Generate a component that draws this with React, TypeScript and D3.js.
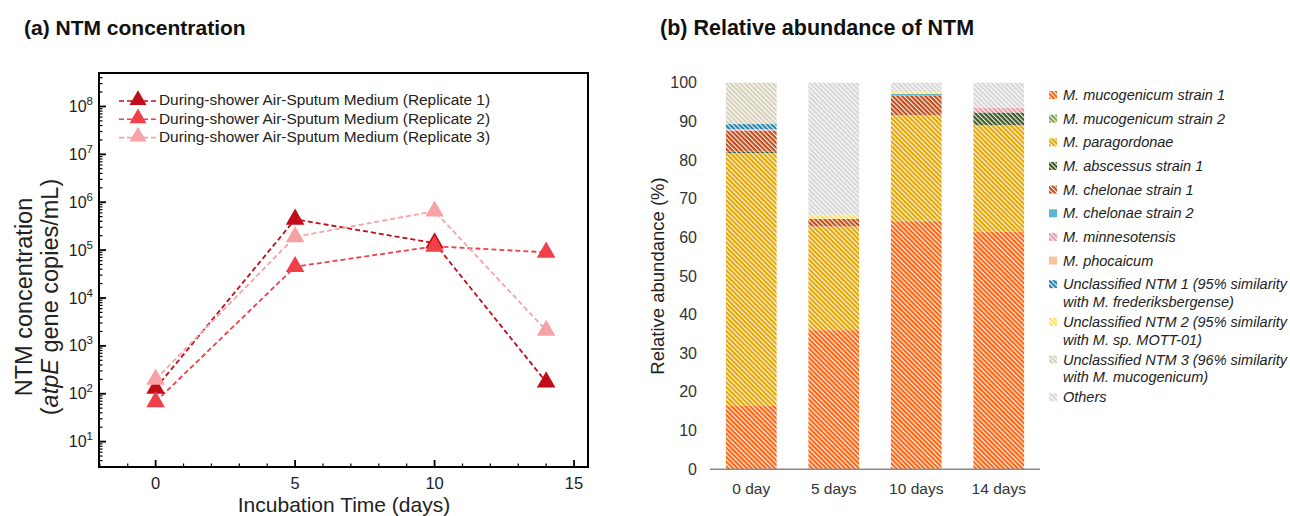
import React from 'react';
import * as d3 from 'd3';

// ---------- Panel (a) data ----------
const days = [0, 5, 10, 14];
const replicate1 = [130, 4.4e5, 1.4e5, 175];
const replicate2 = [68, 4.5e4, 1.2e5, 9.0e4];
const replicate3 = [200, 1.9e5, 6.5e5, 2.1e3];
const replicateNames = [
  'During-shower Air-Sputum Medium (Replicate 1)',
  'During-shower Air-Sputum Medium (Replicate 2)',
  'During-shower Air-Sputum Medium (Replicate 3)',
];
const replicateColors = ['#c20d18', '#f0404a', '#f7a2a5'];
const xTicksA = [0, 5, 10, 15];
const yDecadesA = [1, 2, 3, 4, 5, 6, 7, 8];

// ---------- Panel (b) data ----------
const samples = ['0 day', '5 days', '10 days', '14 days'];
const taxa = [
  'M. mucogenicum strain 1',
  'M. mucogenicum strain 2',
  'M. paragordonae',
  'M. abscessus strain 1',
  'M. chelonae strain 1',
  'M. chelonae strain 2',
  'M. minnesotensis',
  'M. phocaicum',
  'Unclassified NTM 1 (95% similarity\nwith M. frederiksbergense)',
  'Unclassified NTM 2 (95% similarity\nwith M. sp. MOTT-01)',
  'Unclassified NTM 3 (96% similarity\nwith M. mucogenicum)',
  'Others',
];
const taxaColors = [
  '#ff6410', '#78a240', '#e6a600', '#3a5520', '#c24a16', '#5cb6cf',
  '#e89ba5', '#fac3a3', '#2282ab', '#ffdf6a', '#d6d1ba', '#d6d6d6',
];
const taxaHatched = [true, true, true, true, true, false, true, false, true, true, true, true];
const mucogenicum1 = [16.4, 36.0, 64.0, 61.5];
const mucogenicum2 = [0, 0, 0.3, 0];
const paragordonae = [65.4, 26.8, 27.3, 27.5];
const abscessus1 = [0.4, 0, 0, 3.3];
const chelonae1 = [5.4, 2.0, 5.1, 0];
const chelonae2 = [0, 0, 0.4, 0];
const minnesotensis = [0.4, 0, 0, 1.2];
const phocaicum = [0, 0, 0, 0];
const unclassified1 = [1.3, 0, 0, 0];
const unclassified2 = [0, 1.1, 0.5, 0];
const unclassified3 = [10.7, 0, 0, 0];
const others = [0, 34.1, 2.4, 6.5];
const abundanceTicks = [0, 10, 20, 30, 40, 50, 60, 70, 80, 90, 100];

const FONT = "'Liberation Sans', Arial, Helvetica, sans-serif";

export default function App() {
  const W = 1290, H = 516;

  // ----- panel (a) scales -----
  const xA = d3.scaleLinear().domain([-2.03, 15.5]).range([99, 588]);
  const yA = d3.scaleLog().domain([2.95, 5.0e8]).range([467, 73]);
  const reps = [replicate1, replicate2, replicate3];
  const line = d3.line<[number, number]>().x(d => xA(d[0])).y(d => yA(d[1]));
  const tri = d3.symbol().type(d3.symbolTriangle).size(150)();
  const triLegend = d3.symbol().type(d3.symbolTriangle).size(125)();

  const minorY: number[] = [];
  for (let e = 0; e <= 8; e++) {
    for (let m = 2; m <= 9; m++) {
      const v = m * Math.pow(10, e);
      if (v >= 2.95 && v <= 5.0e8) minorY.push(v);
    }
  }
  const minorX = d3.range(-2, 16).filter(v => v % 5 !== 0 && v >= -2.03 && v <= 15.5);

  // ----- panel (b) scales -----
  const xB = d3.scaleBand<string>().domain(samples).range([710, 1040]).paddingInner(0.385).paddingOuter(0.1925);
  const yB = d3.scaleLinear().domain([0, 100]).range([469.3, 82.7]);
  const seriesArrays = [
    mucogenicum1, mucogenicum2, paragordonae, abscessus1, chelonae1, chelonae2,
    minnesotensis, phocaicum, unclassified1, unclassified2, unclassified3, others,
  ];
  const keys = taxa.map((_, i) => 'k' + i);
  const table = samples.map((s, j) => {
    const row: any = { sample: s };
    keys.forEach((k, i) => (row[k] = seriesArrays[i][j]));
    return row;
  });
  const stacked = d3.stack().keys(keys)(table);

  // legend layout for panel (b)
  const legendItems: { label: string[]; y: number; i: number }[] = [];
  let cursor = 95;
  taxa.forEach((t, i) => {
    const lines = t.split('\n');
    legendItems.push({ label: lines, y: cursor, i });
    cursor += (lines.length - 1) * 17.7 + (lines.length > 1 ? 20 : 23.65);
  });

  const fillFor = (i: number) => (taxaHatched[i] ? `url(#hatch${i})` : taxaColors[i]);

  return (
    <div style={{ position: 'absolute', left: 0, top: 0 }}>
      <svg width={W} height={H} style={{ display: 'block', fontFamily: FONT, background: '#fff' }}>
        <defs>
          {taxaColors.map((c, i) => (
            <pattern key={i} id={`hatch${i}`} patternUnits="userSpaceOnUse" width={3.3} height={3.3}
              patternTransform="rotate(-45)">
              <rect width={3.3} height={3.3} fill={c} />
              <rect x={0} y={0} width={1.15} height={3.3} fill="#fff" fillOpacity={0.92} />
            </pattern>
          ))}
        </defs>

        {/* ================= Panel (a) ================= */}
        <text x={24} y={35} fontSize={21} fontWeight="bold" fill="#111">(a) NTM concentration</text>

        {/* minor / major ticks */}
        {minorY.map((v, i) => (
          <line key={'my' + i} x1={xA.range()[0]} x2={xA.range()[0] + 3.5} y1={yA(v)} y2={yA(v)} stroke="#000" strokeWidth={1.2} />
        ))}
        {yDecadesA.map(e => (
          <g key={'dy' + e}>
            <line x1={xA.range()[0]} x2={xA.range()[0] + 7} y1={yA(Math.pow(10, e))} y2={yA(Math.pow(10, e))} stroke="#000" strokeWidth={1.8} />
            <text x={93} y={yA(Math.pow(10, e)) + 5.6} fontSize={16} textAnchor="end" fill="#222">
              10<tspan fontSize={11.5} dy={-7}>{e}</tspan>
            </text>
          </g>
        ))}
        {minorX.map(v => (
          <line key={'mx' + v} x1={xA(v)} x2={xA(v)} y1={yA.range()[0]} y2={yA.range()[0] - 3.5} stroke="#000" strokeWidth={1.2} />
        ))}
        {xTicksA.map(v => (
          <g key={'tx' + v}>
            <line x1={xA(v)} x2={xA(v)} y1={yA.range()[0]} y2={yA.range()[0] - 7} stroke="#000" strokeWidth={1.8} />
            <text x={xA(v)} y={489} fontSize={16.5} textAnchor="middle" fill="#222">{v}</text>
          </g>
        ))}
        <rect x={xA.range()[0]} y={yA.range()[1]} width={xA.range()[1] - xA.range()[0]} height={yA.range()[0] - yA.range()[1]} fill="none" stroke="#000" strokeWidth={2} />

        {/* axis titles */}
        <text x={344} y={512} fontSize={21} textAnchor="middle" fill="#222">Incubation Time (days)</text>
        <text transform="translate(32,297) rotate(-90)" fontSize={23.5} textAnchor="middle" fill="#222">NTM concentration</text>
        <text transform="translate(58,297) rotate(-90)" fontSize={23.5} textAnchor="middle" fill="#222">
          (<tspan fontStyle="italic">atpE</tspan> gene copies/mL)
        </text>

        {/* lines & markers */}
        {reps.map((r, k) => (
          <path key={'l' + k} d={line(days.map((d, j) => [d, r[j]] as [number, number])) || ''} fill="none"
            stroke={replicateColors[k]} strokeWidth={1.8} strokeDasharray="5,3" />
        ))}
        {reps.map((r, k) => (
          <g key={'m' + k}>
            {days.map((d, j) => (
              <path key={j} d={tri || ''} transform={`translate(${xA(d)},${yA(r[j])})`} fill={replicateColors[k]} />
            ))}
          </g>
        ))}

        {/* legend (a) */}
        {replicateNames.map((n, k) => {
          const cy = 100 + k * 18.3;
          return (
            <g key={'lg' + k}>
              <line x1={119} x2={157} y1={cy + 1} y2={cy + 1} stroke={replicateColors[k]} strokeWidth={1.6} strokeDasharray="5,3" />
              <path d={triLegend || ''} transform={`translate(138,${cy})`} fill={replicateColors[k]} />
              <text x={159} y={cy + 5.4} fontSize={15.4} fill="#222">{n}</text>
            </g>
          );
        })}

        {/* ================= Panel (b) ================= */}
        <text x={660} y={35} fontSize={21.5} fontWeight="bold" fill="#111">(b) Relative abundance of NTM</text>

        {abundanceTicks.map(t => (
          <text key={'yt' + t} x={697} y={yB(t) + 5.5} fontSize={16} textAnchor="end" fill="#333">{t}</text>
        ))}
        <text transform={`translate(664,${(yB(0) + yB(100)) / 2}) rotate(-90)`} fontSize={18.5} textAnchor="middle" fill="#222">Relative abundance (%)</text>

        {stacked.map((s, i) => (
          <g key={'s' + i} fill={fillFor(i)}>
            {s.map((d, j) => (
              d[1] - d[0] > 0 ? (
                <rect key={j} x={xB(samples[j])} y={yB(d[1])} width={xB.bandwidth()} height={yB(d[0]) - yB(d[1])} />
              ) : null
            ))}
          </g>
        ))}
        <line x1={xB.range()[0]} x2={xB.range()[1]} y1={yB(0)} y2={yB(0)} stroke="#8a8a8a" strokeWidth={1.5} />
        {samples.map(s => (
          <text key={'xl' + s} x={(xB(s) || 0) + xB.bandwidth() / 2} y={494} fontSize={15.5} textAnchor="middle" fill="#333">{s}</text>
        ))}

        {/* legend (b) */}
        {legendItems.map(it => (
          <g key={'lb' + it.i}>
            <rect x={1049} y={it.y - 4} width={8} height={8} fill={fillFor(it.i)} />
            {it.label.map((ln, li) => (
              <text key={li} x={1063} y={it.y + li * 17.7 + 5} fontSize={14.5} fontStyle="italic" fill="#222">{ln}</text>
            ))}
          </g>
        ))}
      </svg>
    </div>
  );
}
